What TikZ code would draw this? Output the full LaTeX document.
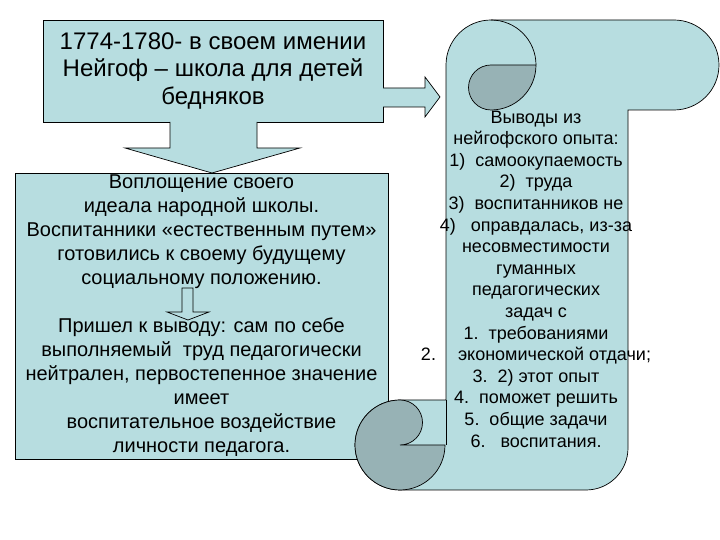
\documentclass[tikz,border=0pt]{standalone}
\usepackage{fontspec}
\setmainfont{Liberation Sans}
\definecolor{fond}{RGB}{183,221,224}
\definecolor{rouleau}{RGB}{151,178,181}

\begin{document}
\begin{tikzpicture}[x=1pt,y=1pt,line width=0.7pt,
  boite/.style={draw,fill=fond,inner sep=0pt,align=center}]
\useasboundingbox (0,0) rectangle (720,540);

% Ecole de Neuhof
\node[boite,minimum width=340pt,minimum height=102pt,
  font=\fontsize{24}{27.6}\selectfont] (ecole) at (213,469)
  {1774-1780- в своем имении\\ Нейгоф -- школа для детей\\ бедняков};

% grosse fleche vers le bas
\draw[fill=fond] (170,418) -- (170,392) -- (125,392) -- (212,367)
  -- (300,392) -- (257,392) -- (257,418);

% Idéal
\node[boite,minimum width=373pt,minimum height=286pt,
  font=\fontsize{20}{24}\selectfont] (ideal) at (201.5,224)
  {Воплощение своего\\ идеала народной школы.\\
   Воспитанники «естественным путем»\\ готовились к своему будущему\\
   социальному положению.\\ \mbox{}\\
   Пришел к выводу: сам по себе\\ выполняемый\ \ труд педагогически\\
   нейтрален, первостепенное значение\\ имеет\\
   воспитательное воздействие\\ личности педагога.};

% petite fleche
\draw[fill=fond] (182,252) -- (193,252) -- (193,228) -- (209,228)
  -- (188,220) -- (167,228) -- (182,228) -- cycle;

% fleche vers le rouleau
\draw[fill=fond] (383,452) -- (425,452) -- (425,463) -- (440,443)
  -- (425,423) -- (425,433) -- (383,433);

% Rouleau
\draw[fill=fond] (446,475) arc (180:90:45) -- (674,520) arc (90:-90:45)
  -- (628,430) -- (628,92) arc (0:-90:42) -- (400,50) arc (270:90:45)
  -- (446,140) -- cycle;
\draw (491,520) arc (90:0:45);
\draw (446,140) -- (446,95);
\draw[fill=rouleau] (491,475) -- (536,475) arc (0:-90:45)
  arc (-90:-270:22.5) -- cycle;
\draw[fill=rouleau] (400,140) arc (90:-90:22.5) -- (445,95)
  arc (0:-270:45) -- cycle;

\node[align=center,font=\fontsize{18}{21.6}\selectfont] (bilan) at (536,261)
  {Выводы из\\ нейгофского опыта:\\ 1)\ \ самоокупаемость\\ 2)\ \ труда\\
   3)\ \ воспитанников не\\ 4)\ \ \ оправдалась, из-за\\ несовместимости\\
   гуманных\\ педагогических\\ задач с\\ 1.\ \ требованиями\\
   2.\hspace{22pt}экономической отдачи;\\ 3.\ \ 2) этот опыт\\
   4.\ \ поможет решить\\ 5.\ \ общие задачи\\ 6.\ \ \ воспитания.};

\end{tikzpicture}
\end{document}
